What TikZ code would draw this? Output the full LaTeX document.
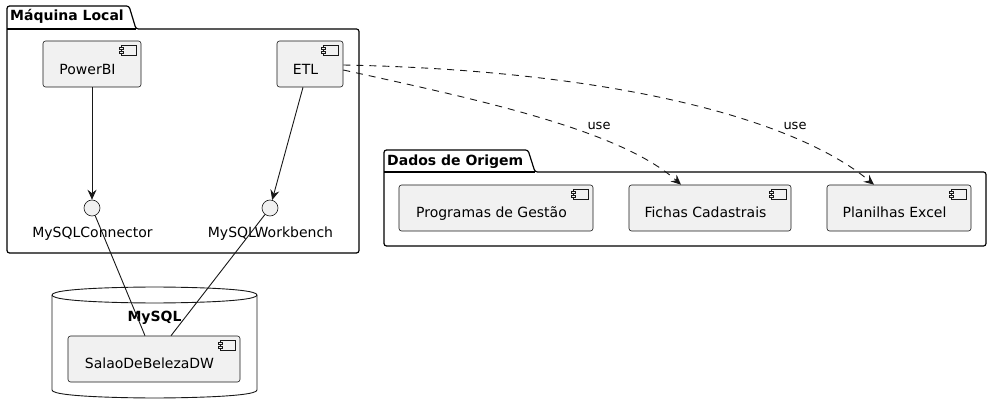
\documentclass[tikz,border=0pt]{standalone}
\usepackage{fontspec}
\setmainfont{DejaVu Sans}
\usetikzlibrary{arrows.meta,calc}
\definecolor{cfill}{HTML}{F1F1F1}
\definecolor{cline}{HTML}{181818}
\newcommand\compicon[1]{%
  \draw[cline, line width=0.5pt, fill=cfill] (#1.north east) ++(-20,5) rectangle ++(15,10);
  \draw[cline, line width=0.5pt, fill=cfill] (#1.north east) ++(-22,7) rectangle ++(4,2);
  \draw[cline, line width=0.5pt, fill=cfill] (#1.north east) ++(-22,11) rectangle ++(4,2);
}
\begin{document}
\begin{tikzpicture}[x=1pt,y=-1pt,
  comp/.style={draw=cline, line width=0.6pt, fill=cfill, rounded corners=2.5pt, inner sep=0pt, minimum height=46pt},
  lbl/.style={font=\fontsize{14}{16}\selectfont, inner sep=0pt, anchor=base},
  ttl/.style={font=\bfseries\fontsize{14}{16}\selectfont, inner sep=0pt, anchor=base},
  uselbl/.style={font=\fontsize{13}{15}\selectfont, inner sep=0pt, anchor=base},
  iface/.style={circle, draw=cline, line width=0.6pt, fill=cfill, minimum size=16pt, inner sep=0pt},
  pkg/.style={draw=black, line width=1.2pt, rounded corners=2.5pt},
  conn/.style={draw=cline, line width=0.9pt},
  arr/.style={conn, -{Stealth[length=10pt,width=9pt,inset=3.5pt]}},
  usearr/.style={arr, dash pattern=on 7pt off 6pt},
]
\useasboundingbox (0,0) rectangle (991,414);

% ---------- Package: Maquina Local
\draw[pkg] (7,253) -- (7,6) -- (129,6) -- (136,29) -- (359,29) -- (359,253) -- cycle;
\draw[black, line width=1.2pt] (7,29) -- (136,29);
\node[ttl, anchor=base west] (mltitle) at (10,21) {Máquina Local};

% components
\node[comp, minimum width=98pt] (powerbi) at (92,64) {};
\compicon{powerbi}
\node[lbl] (powerbi-l) at (87.5,74.5) {PowerBI};

\node[comp, minimum width=66pt] (etl) at (310,64) {};
\compicon{etl}
\node[lbl] (etl-l) at (305.5,74.5) {ETL};

% interfaces
\node[iface] (mconn) at (92,208) {};
\node[lbl] (mconn-l) at (92.5,238) {MySQLConnector};
\node[iface] (mwb) at (270,208) {};
\node[lbl] (mwb-l) at (270.5,238) {MySQLWorkbench};

\draw[arr] (powerbi) -- (mconn);
\draw[arr] ([xshift=-7pt]etl.south) -- (mwb);

% ---------- Database MySQL
\coordinate (mysql) at (154.5,342);
\draw[cline, line width=0.9pt, fill=white]
  (52,295) .. controls (52,287) and (154.5,287) .. (154.5,287)
  .. controls (154.5,287) and (257,287) .. (257,295)
  -- (257,390) .. controls (257,398) and (154.5,398) .. (154.5,398)
  .. controls (154.5,398) and (52,398) .. (52,390) -- cycle;
\draw[cline, line width=0.9pt]
  (52,295) .. controls (52,303) and (154.5,303) .. (154.5,303)
  .. controls (154.5,303) and (257,303) .. (257,295);
\node[ttl] (mysql-l) at (154.5,321) {MySQL};

\node[comp, minimum width=172pt] (salao) at (154,359) {};
\compicon{salao}
\node[lbl] (salao-l) at (149.5,368.5) {SalaoDeBelezaDW};

\draw[conn] (mconn) -- ([xshift=-9pt]salao.north);
\draw[conn] (mwb) -- ([xshift=17pt]salao.north);

% ---------- Package: Dados de Origem
\draw[pkg] (384,246) -- (384,150) -- (528,150) -- (535,172) -- (986,172) -- (986,246) -- cycle;
\draw[black, line width=1.2pt] (384,172) -- (535,172);
\node[ttl, anchor=base west] (dotitle) at (387,166) {Dados de Origem};

\node[comp, minimum width=194pt] (prog) at (496,208) {};
\compicon{prog}
\node[lbl] (prog-l) at (491.5,218) {Programas de Gestão};

\node[comp, minimum width=162pt] (fichas) at (710,208) {};
\compicon{fichas}
\node[lbl] (fichas-l) at (705.5,218) {Fichas Cadastrais};

\node[comp, minimum width=144pt] (plan) at (899,208) {};
\compicon{plan}
\node[lbl] (plan-l) at (894.5,218) {Planilhas Excel};

% ---------- use dependencies
\coordinate (etlA) at ($(etl.east)+(0,1)$);
\coordinate (etlB) at ($(etl.east)+(0,6)$);
\draw[usearr] (etlA) .. controls (600,70) and (790,115) .. ([xshift=-25pt]plan.north);
\draw[usearr] (etlB) .. controls (480,100) and (620,130) .. ([xshift=-29pt]fichas.north);
\node[uselbl] (use1) at (599,130) {use};
\node[uselbl] (use2) at (795,130) {use};
\end{tikzpicture}
\end{document}
